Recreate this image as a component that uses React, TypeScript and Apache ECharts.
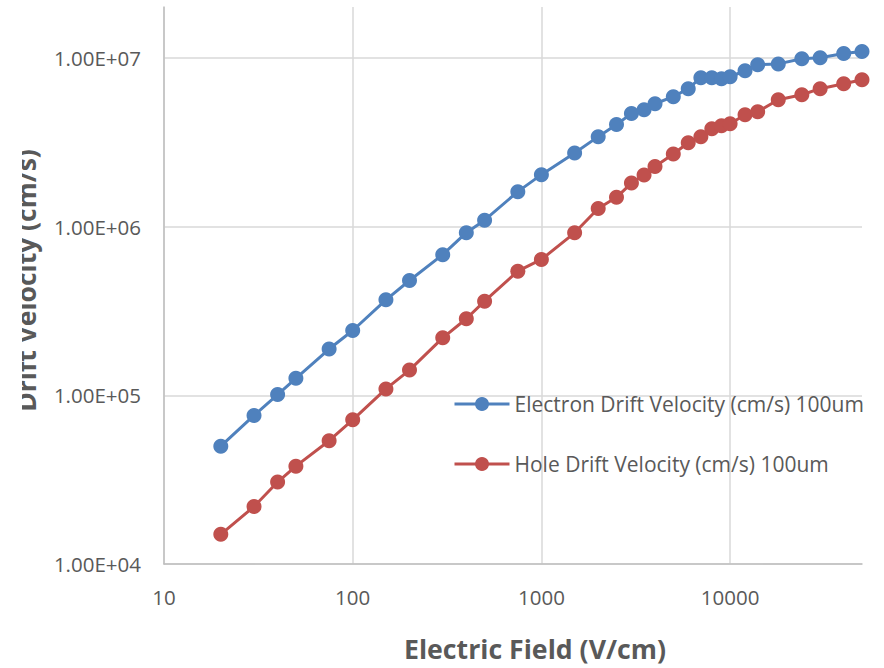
import React, { useEffect, useRef } from "react";
import * as echarts from "echarts";

const fieldValues = [20, 30, 40, 50, 75, 100, 150, 200, 300, 400, 500, 750, 1000, 1500, 2000, 2500, 3000, 3500, 4000, 5000, 6000, 7000, 8000, 9000, 10000, 12000, 14000, 18000, 24000, 30000, 40000, 50000];

const electronVelocity = [4.99e4, 7.59e4, 1.01e5, 1.26e5, 1.88e5, 2.42e5, 3.68e5, 4.79e5, 6.81e5, 9.19e5, 1.09e6, 1.61e6, 2.03e6, 2.73e6, 3.41e6, 4.02e6, 4.67e6, 4.92e6, 5.34e6, 5.88e6, 6.56e6, 7.62e6, 7.62e6, 7.52e6, 7.72e6, 8.38e6, 9.1e6, 9.2e6, 9.86e6, 1.0e7, 1.06e7, 1.09e7];

const holeVelocity = [1.5e4, 2.19e4, 3.06e4, 3.8e4, 5.38e4, 7.15e4, 1.09e5, 1.41e5, 2.19e5, 2.84e5, 3.61e5, 5.44e5, 6.38e5, 9.18e5, 1.28e6, 1.49e6, 1.81e6, 2.02e6, 2.27e6, 2.69e6, 3.14e6, 3.41e6, 3.8e6, 3.96e6, 4.07e6, 4.6e6, 4.79e6, 5.64e6, 6.04e6, 6.56e6, 7.02e6, 7.41e6];

const seriesNames = ["Electron Drift Velocity (cm/s) 100um", "Hole Drift Velocity (cm/s) 100um"];
const xAxisTitle = "Electric Field (V/cm)";
const yAxisTitle = "Drift Velocity (cm/s)";

const TEXT = "#595959";
const FONT = "'Open Sans', 'Liberation Sans', sans-serif";

function sciLabel(v: number): string {
  const e = Math.floor(Math.log10(v) + 1e-9);
  const m = v / Math.pow(10, e);
  const sign = e < 0 ? "-" : "+";
  return m.toFixed(2) + "E" + sign + String(Math.abs(e)).padStart(2, "0");
}

export default function App() {
  const ref = useRef<HTMLDivElement>(null);
  useEffect(() => {
    if (!ref.current) return;
    const chart = echarts.init(ref.current, null, { renderer: "svg" });
    const pairs = (ys: number[]) => fieldValues.map((x, i) => [x, ys[i]]);
    chart.setOption({
      animation: false,
      backgroundColor: "#ffffff",
      grid: { left: 164, right: 22, top: 7, bottom: 104, containLabel: false },
      legend: {
        orient: "vertical",
        left: 453,
        top: 392,
        padding: 0,
        itemWidth: 55,
        itemHeight: 17.5,
        itemGap: 36,
        lineStyle: { width: 3 },
        textStyle: { color: TEXT, fontSize: 21, fontFamily: FONT, lineHeight: 24 },
        data: seriesNames,
      },
      xAxis: {
        type: "log",
        logBase: 10,
        min: 10,
        max: 50000,
        name: xAxisTitle,
        nameLocation: "middle",
        nameGap: 71,
        nameTextStyle: { color: TEXT, fontSize: 26.7, fontWeight: "bold", fontFamily: FONT, padding: [0, 0, 0, 44] },
        axisLine: { show: true, lineStyle: { color: "#BFBFBF", width: 1.5 } },
        axisTick: { show: false },
        axisLabel: {
          color: TEXT,
          fontSize: 20.5,
          fontFamily: FONT,
          margin: 22,
          showMaxLabel: false,
          formatter: (v: number) => String(Math.round(v)),
        },
        splitLine: { show: true, showMaxLine: false, lineStyle: { color: "#D9D9D9", width: 1.5 } },
      },
      yAxis: {
        type: "log",
        logBase: 10,
        min: 1e4,
        max: 2e7,
        name: yAxisTitle,
        nameLocation: "middle",
        nameGap: 125,
        nameTextStyle: { color: TEXT, fontSize: 26.5, fontWeight: "bold", fontFamily: FONT, padding: [0, 0, 0, 10] },
        axisLine: { show: true, lineStyle: { color: "#BFBFBF", width: 1.5 } },
        axisTick: { show: false },
        axisLabel: {
          color: TEXT,
          fontSize: 20.5,
          fontFamily: FONT,
          margin: 23,
          showMaxLabel: false,
          formatter: (v: number) => sciLabel(v),
        },
        splitLine: { show: true, showMaxLine: false, lineStyle: { color: "#D9D9D9", width: 1.5 } },
      },
      series: [
        {
          name: seriesNames[0],
          type: "line",
          data: pairs(electronVelocity),
          symbol: "circle",
          symbolSize: 15,
          showAllSymbol: true,
          itemStyle: { color: "#4F81BD" },
          lineStyle: { color: "#4F81BD", width: 3 },
        },
        {
          name: seriesNames[1],
          type: "line",
          data: pairs(holeVelocity),
          symbol: "circle",
          symbolSize: 15,
          showAllSymbol: true,
          itemStyle: { color: "#C0504D" },
          lineStyle: { color: "#C0504D", width: 3 },
        },
      ],
      graphic: [
        { type: "rect", left: 0, top: 0, shape: { width: 22, height: 668 }, style: { fill: "#ffffff" }, z: 100 },
      ],
    });
    return () => chart.dispose();
  }, []);
  return <div ref={ref} style={{ width: 884, height: 668, position: "absolute", left: 0, top: 0 }} />;
}
